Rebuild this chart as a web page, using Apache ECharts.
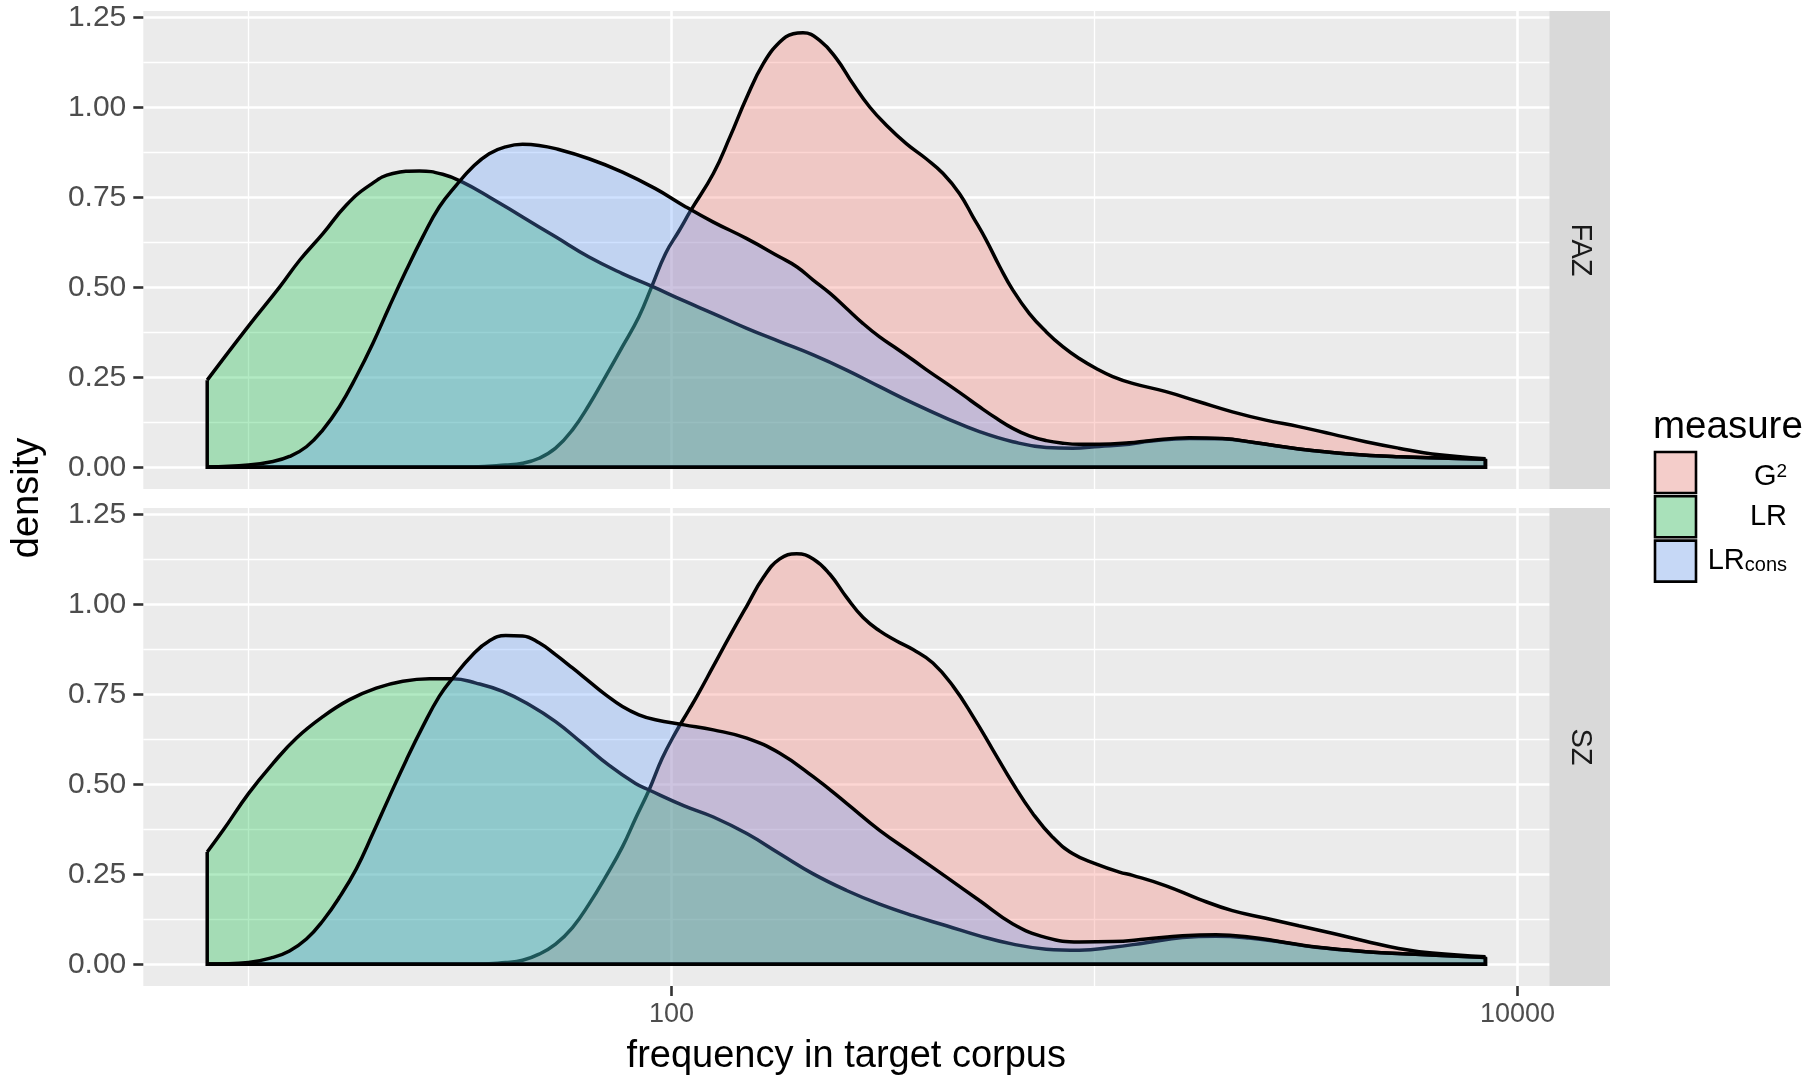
<!DOCTYPE html>
<html><head><meta charset="utf-8">
<script src="https://cdn.jsdelivr.net/npm/echarts@6/dist/echarts.min.js"></script>
<style>html,body{margin:0;padding:0;background:#fff}#c{width:1819px;height:1081px}</style>
</head><body><div id="c"></div>
<script>
// ---------- data ----------
const PANELS = ['FAZ', 'SZ'];
const MEASURES = ['G2', 'LR', 'LRcons'];
const MEASURE_LABELS = ['G{sup|2}', 'LR', 'LR{sub|cons}'];
const FILLS = ['#F8766D', '#00BA38', '#619CFF'];
const X_TICKS = [100, 10000];
const X_MINOR = [10, 1000];
const Y_TICKS = [0, 0.25, 0.5, 0.75, 1, 1.25];
const Y_MINOR = [0.125, 0.375, 0.625, 0.875, 1.125];

// [log10(frequency), density]
const FAZ_G2 = [[0.9025,0],[1.30,0],[1.53,0.001],[1.608,0.006],[1.648,0.011],[1.687,0.025],[1.726,0.053],[1.766,0.104],[1.805,0.173],[1.844,0.252],[1.884,0.335],[1.923,0.418],[1.953,0.501],[1.986,0.594],[2.018,0.657],[2.046,0.714],[2.099,0.816],[2.138,0.917],[2.178,1.028],[2.217,1.121],[2.256,1.181],[2.288,1.204],[2.311,1.207],[2.351,1.185],[2.390,1.135],[2.429,1.065],[2.469,1.000],[2.508,0.950],[2.555,0.899],[2.602,0.857],[2.642,0.816],[2.681,0.760],[2.713,0.695],[2.744,0.631],[2.776,0.557],[2.807,0.492],[2.846,0.427],[2.886,0.376],[2.925,0.335],[2.964,0.302],[3.003,0.275],[3.043,0.252],[3.090,0.233],[3.169,0.210],[3.247,0.182],[3.326,0.154],[3.405,0.131],[3.483,0.113],[3.562,0.092],[3.641,0.071],[3.719,0.053],[3.798,0.037],[3.924,0.024]];
const FAZ_LR = [[0.9025,0.242],[1.000,0.392],[1.074,0.501],[1.121,0.575],[1.176,0.649],[1.231,0.728],[1.286,0.783],[1.341,0.816],[1.404,0.823],[1.459,0.814],[1.506,0.792],[1.569,0.751],[1.648,0.695],[1.726,0.640],[1.805,0.584],[1.884,0.538],[1.953,0.503],[2.030,0.462],[2.099,0.427],[2.178,0.386],[2.256,0.349],[2.335,0.312],[2.414,0.270],[2.492,0.224],[2.571,0.178],[2.650,0.136],[2.728,0.099],[2.807,0.071],[2.886,0.055],[2.948,0.053],[3.011,0.058],[3.082,0.064],[3.129,0.072],[3.224,0.080],[3.302,0.079],[3.381,0.068],[3.483,0.051],[3.601,0.037],[3.719,0.029],[3.837,0.025],[3.924,0.022]];
const FAZ_LRCONS = [[0.9025,0],[1.000,0.006],[1.058,0.016],[1.097,0.030],[1.137,0.057],[1.176,0.104],[1.215,0.168],[1.255,0.252],[1.294,0.344],[1.333,0.446],[1.373,0.547],[1.412,0.640],[1.451,0.723],[1.491,0.783],[1.530,0.834],[1.569,0.871],[1.608,0.890],[1.648,0.897],[1.687,0.894],[1.726,0.885],[1.805,0.857],[1.884,0.820],[1.962,0.774],[2.030,0.726],[2.099,0.681],[2.178,0.635],[2.256,0.584],[2.296,0.557],[2.335,0.520],[2.375,0.483],[2.414,0.441],[2.453,0.399],[2.492,0.362],[2.532,0.330],[2.571,0.298],[2.610,0.265],[2.650,0.233],[2.689,0.201],[2.728,0.168],[2.768,0.136],[2.807,0.108],[2.846,0.087],[2.886,0.074],[2.925,0.067],[2.964,0.064],[3.011,0.064],[3.082,0.068],[3.129,0.074],[3.224,0.082],[3.302,0.080],[3.381,0.068],[3.483,0.051],[3.601,0.037],[3.719,0.029],[3.837,0.025],[3.924,0.022]];
const SZ_G2 = [[0.9025,0],[1.30,0],[1.530,0],[1.608,0.005],[1.648,0.011],[1.687,0.028],[1.726,0.056],[1.766,0.102],[1.805,0.167],[1.844,0.242],[1.884,0.326],[1.915,0.405],[1.947,0.484],[1.978,0.572],[2.009,0.642],[2.040,0.704],[2.060,0.744],[2.099,0.828],[2.138,0.912],[2.178,0.995],[2.217,1.074],[2.256,1.126],[2.296,1.140],[2.335,1.126],[2.374,1.084],[2.414,1.019],[2.453,0.963],[2.492,0.926],[2.532,0.898],[2.571,0.874],[2.618,0.837],[2.666,0.772],[2.713,0.688],[2.760,0.595],[2.807,0.502],[2.854,0.419],[2.901,0.353],[2.949,0.307],[3.003,0.279],[3.059,0.256],[3.090,0.247],[3.169,0.218],[3.247,0.181],[3.326,0.149],[3.405,0.128],[3.483,0.107],[3.562,0.086],[3.641,0.064],[3.719,0.044],[3.798,0.031],[3.924,0.021]];
const SZ_LR = [[0.9025,0.312],[0.940,0.372],[1.000,0.474],[1.058,0.558],[1.113,0.628],[1.176,0.688],[1.239,0.735],[1.302,0.767],[1.365,0.786],[1.428,0.793],[1.483,0.793],[1.538,0.781],[1.601,0.758],[1.664,0.721],[1.726,0.674],[1.789,0.614],[1.852,0.553],[1.915,0.502],[1.947,0.484],[2.030,0.440],[2.099,0.409],[2.178,0.363],[2.256,0.307],[2.335,0.251],[2.414,0.205],[2.492,0.167],[2.571,0.135],[2.650,0.107],[2.728,0.079],[2.807,0.056],[2.886,0.042],[2.964,0.039],[3.043,0.047],[3.122,0.060],[3.208,0.074],[3.287,0.078],[3.365,0.073],[3.444,0.061],[3.523,0.047],[3.641,0.035],[3.759,0.028],[3.924,0.019]];
const SZ_LRCONS = [[0.9025,0],[1.000,0.005],[1.058,0.019],[1.097,0.037],[1.137,0.070],[1.176,0.121],[1.215,0.186],[1.255,0.265],[1.294,0.363],[1.333,0.465],[1.373,0.567],[1.412,0.660],[1.451,0.744],[1.483,0.795],[1.530,0.860],[1.569,0.898],[1.608,0.913],[1.648,0.912],[1.687,0.893],[1.726,0.860],[1.766,0.823],[1.805,0.786],[1.844,0.749],[1.884,0.716],[1.923,0.693],[1.962,0.679],[2.030,0.665],[2.099,0.651],[2.178,0.628],[2.256,0.586],[2.335,0.521],[2.414,0.447],[2.492,0.372],[2.571,0.307],[2.650,0.242],[2.728,0.177],[2.807,0.112],[2.886,0.074],[2.964,0.062],[3.043,0.063],[3.122,0.070],[3.208,0.079],[3.287,0.082],[3.365,0.076],[3.444,0.062],[3.523,0.048],[3.641,0.035],[3.759,0.028],[3.924,0.019]];

const DATA = [[FAZ_G2, FAZ_LR, FAZ_LRCONS], [SZ_G2, SZ_LR, SZ_LRCONS]];

// ---------- scales (ggplot-like 5% expansion) ----------
let xLo = Infinity, xHi = -Infinity, yHi = -Infinity;
DATA.forEach(p => p.forEach(s => s.forEach(([x, y]) => { xLo = Math.min(xLo, x); xHi = Math.max(xHi, x); yHi = Math.max(yHi, y); })));
const XMIN = xLo - 0.05 * (xHi - xLo), XMAX = xHi + 0.05 * (xHi - xLo);
const YMIN = -0.05 * yHi, YMAX = yHi * 1.05;

// ---------- layout ----------
const FONT = '"Liberation Sans", Arial, Helvetica, sans-serif';
const GRID_L = 143.3, GRID_W = 1406, GRID_H = 478, GRID_TOPS = [11, 508];
const STRIP_W = 60.7;
const MAJOR_W = 2.6, MINOR_W = 1.3, OUTLINE_W = 3.5;

const chart = echarts.init(document.getElementById('c'), null, { renderer: 'canvas' });

const grids = GRID_TOPS.map(t => ({
  left: GRID_L, top: t, width: GRID_W, height: GRID_H,
  show: true, backgroundColor: '#EBEBEB', borderWidth: 0, containLabel: false, outerBoundsMode: 'none'
}));

const xAxes = [], yAxes = [];
PANELS.forEach((p, i) => {
  const bottom = i === PANELS.length - 1;
  const xt = X_TICKS.map(Math.log10);
  xAxes.push({
    type: 'value', gridIndex: i, min: XMIN, max: XMAX, position: 'bottom',
    axisLine: { show: false, onZero: false },
    axisTick: { show: bottom, customValues: xt, length: 10, lineStyle: { color: '#333333', width: MAJOR_W } },
    axisLabel: { show: bottom, customValues: xt, formatter: v => String(Math.round(Math.pow(10, v))),
      color: '#4D4D4D', fontSize: 27, fontFamily: FONT, margin: 15 },
    splitLine: { show: true, lineStyle: { color: '#FFFFFF', width: MAJOR_W } }
  });
  xAxes.push({
    type: 'value', gridIndex: i, min: XMIN, max: XMAX, position: 'top',
    axisLine: { show: false, onZero: false },
    axisTick: { show: false, customValues: X_MINOR.map(Math.log10) },
    axisLabel: { show: false },
    splitLine: { show: true, lineStyle: { color: '#FFFFFF', width: MINOR_W } }
  });
  yAxes.push({
    type: 'value', gridIndex: i, min: YMIN, max: YMAX, position: 'left',
    axisLine: { show: false, onZero: false },
    axisTick: { show: true, customValues: Y_TICKS, length: 10, lineStyle: { color: '#333333', width: MAJOR_W } },
    axisLabel: { show: true, customValues: Y_TICKS, formatter: v => v.toFixed(2),
      color: '#4D4D4D', fontSize: 30, fontFamily: FONT, margin: 17 },
    splitLine: { show: true, lineStyle: { color: '#FFFFFF', width: MAJOR_W } }
  });
  yAxes.push({
    type: 'value', gridIndex: i, min: YMIN, max: YMAX, position: 'right',
    axisLine: { show: false, onZero: false },
    axisTick: { show: false, customValues: Y_MINOR },
    axisLabel: { show: false },
    splitLine: { show: true, lineStyle: { color: '#FFFFFF', width: MINOR_W } }
  });
});

const series = [];
DATA.forEach((panelData, p) => {
  panelData.forEach((pts, m) => {
    const first = pts[0], last = pts[pts.length - 1];
    series.push({
      name: MEASURES[m], type: 'line', xAxisIndex: 2 * p, yAxisIndex: 2 * p,
      data: pts, smooth: 0.45, symbol: 'none', z: 2 + m,
      lineStyle: { color: '#000000', width: OUTLINE_W },
      areaStyle: { color: FILLS[m], opacity: 0.3 },
      silent: true, animation: false
    });
    series.push({
      name: MEASURES[m] + '_edge', type: 'line', xAxisIndex: 2 * p, yAxisIndex: 2 * p,
      data: [[last[0], last[1]], [last[0], 0], [first[0], 0], [first[0], first[1]]],
      symbol: 'none', z: 2 + m,
      lineStyle: { color: '#000000', width: OUTLINE_W, join: 'miter' },
      silent: true, animation: false
    });
  });
});

// ---------- annotations: strips, titles, legend ----------
const graphic = [];
GRID_TOPS.forEach((t, i) => {
  graphic.push({ type: 'rect', shape: { x: GRID_L + GRID_W, y: t, width: STRIP_W, height: GRID_H },
    style: { fill: '#D9D9D9' }, silent: true });
  graphic.push({ type: 'text', x: GRID_L + GRID_W + STRIP_W / 2, y: t + GRID_H / 2, rotation: -Math.PI / 2,
    style: { text: PANELS[i], fill: '#1A1A1A', font: '29px ' + FONT, align: 'center', verticalAlign: 'middle' }, silent: true });
});
graphic.push({ type: 'text', x: 28, y: 498, rotation: Math.PI / 2,
  style: { text: 'density', fill: '#000', font: '38px ' + FONT, align: 'center', verticalAlign: 'middle' }, silent: true });
graphic.push({ type: 'text', x: GRID_L + GRID_W / 2, y: 1057,
  style: { text: 'frequency in target corpus', fill: '#000', font: '38px ' + FONT, align: 'center', verticalAlign: 'middle' }, silent: true });
graphic.push({ type: 'text', x: 1653, y: 427,
  style: { text: 'measure', fill: '#000', font: '38.5px ' + FONT, align: 'left', verticalAlign: 'middle' }, silent: true });
MEASURES.forEach((m, i) => {
  const top = 452 + i * 44.3;
  graphic.push({ type: 'rect', shape: { x: 1655, y: top, width: 41, height: 41 }, style: { fill: '#F2F2F2' }, silent: true });
  graphic.push({ type: 'rect', shape: { x: 1655, y: top, width: 41, height: 41 },
    style: { fill: FILLS[i], opacity: 0.3 }, silent: true });
  graphic.push({ type: 'rect', shape: { x: 1655, y: top, width: 41, height: 41 },
    style: { fill: 'none', stroke: '#000', lineWidth: 2.6 }, silent: true });
  graphic.push({ type: 'text', x: 1787, y: top + 20.5 + (i === 0 ? 4 : 0),
    style: { text: MEASURE_LABELS[i], fill: '#000', font: '29px ' + FONT, align: 'right', verticalAlign: 'middle',
      rich: {
        sup: { fontSize: 19, fontFamily: FONT, fill: '#000', verticalAlign: 'top' },
        sub: { fontSize: 20, fontFamily: FONT, fill: '#000', verticalAlign: 'bottom' }
      } }, silent: true });
});

chart.setOption({
  backgroundColor: '#FFFFFF',
  animation: false,
  grid: grids,
  xAxis: xAxes,
  yAxis: yAxes,
  series: series,
  graphic: graphic
});
</script></body></html>
